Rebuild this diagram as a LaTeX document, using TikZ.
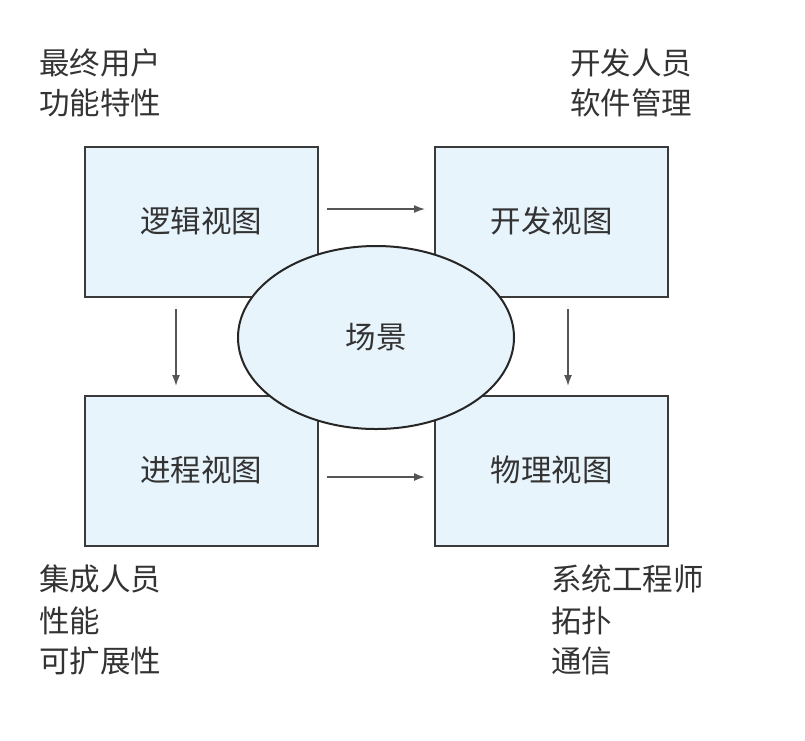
\documentclass[tikz,border=0pt]{standalone}
\usepackage{fontspec}
\newfontfamily\cjk{Noto Sans CJK SC}
\usetikzlibrary{arrows.meta,shapes.geometric}
\definecolor{boxfill}{HTML}{E8F4FB}
\definecolor{boxline}{HTML}{3A3A3A}
\definecolor{txt}{HTML}{333333}
\definecolor{arrline}{HTML}{555555}
\tikzset{
  cjktext/.style={font=\cjk\fontsize{30.5}{36}\selectfont, text=txt, inner sep=0pt, text height=26.5pt, text depth=4.9pt},
  viewbox/.style={cjktext, draw=boxline, fill=boxfill, line width=2pt, minimum width=233pt, minimum height=150pt},
  scenebox/.style={cjktext, ellipse, draw=black!85, fill=boxfill, line width=2pt, minimum width=276pt, minimum height=183pt},
  corner/.style={cjktext, anchor=west},
  arr/.style={draw=arrline, line width=1.6pt, -{Latex[length=11pt,width=8pt]}}
}
\begin{document}
\begin{tikzpicture}[x=1pt,y=-1pt]
\useasboundingbox (0,0) rectangle (805,740);
\fill[white] (0,0) rectangle (805,740);
% view boxes
\node[viewbox] (logic) at (201,222) {逻辑视图};
\node[viewbox] (dev)   at (551.5,222) {开发视图};
\node[viewbox] (proc)  at (201,471) {进程视图};
\node[viewbox] (phys)  at (551.5,471) {物理视图};
% scene ellipse
\node[scenebox] (scene) at (376,337.5) {场景};
% arrows
\draw[arr] ([xshift=8pt,yshift=13pt]logic.east) -- ([xshift=-9pt,yshift=13pt]dev.west);
\draw[arr] ([xshift=8pt,yshift=-6pt]proc.east) -- ([xshift=-9pt,yshift=-6pt]phys.west);
\draw[arr] ([xshift=-25pt,yshift=-11pt]logic.south) -- ([xshift=-25pt,yshift=9pt]proc.north);
\draw[arr] ([xshift=16.5pt,yshift=-11pt]dev.south) -- ([xshift=16.5pt,yshift=9pt]phys.north);
% corner labels
\node[corner] (tl1) at (39,64) {最终用户};
\node[corner] (tl2) at (39,103.5) {功能特性};
\node[corner] (tr1) at (570,64) {开发人员};
\node[corner] (tr2) at (570,103.5) {软件管理};
\node[corner] (bl1) at (39,580) {集成人员};
\node[corner] (bl2) at (39,622) {性能};
\node[corner] (bl3) at (39,662) {可扩展性};
\node[corner] (br1) at (551,580) {系统工程师};
\node[corner] (br2) at (551,622) {拓扑};
\node[corner] (br3) at (551,662) {通信};
\end{tikzpicture}
\end{document}
